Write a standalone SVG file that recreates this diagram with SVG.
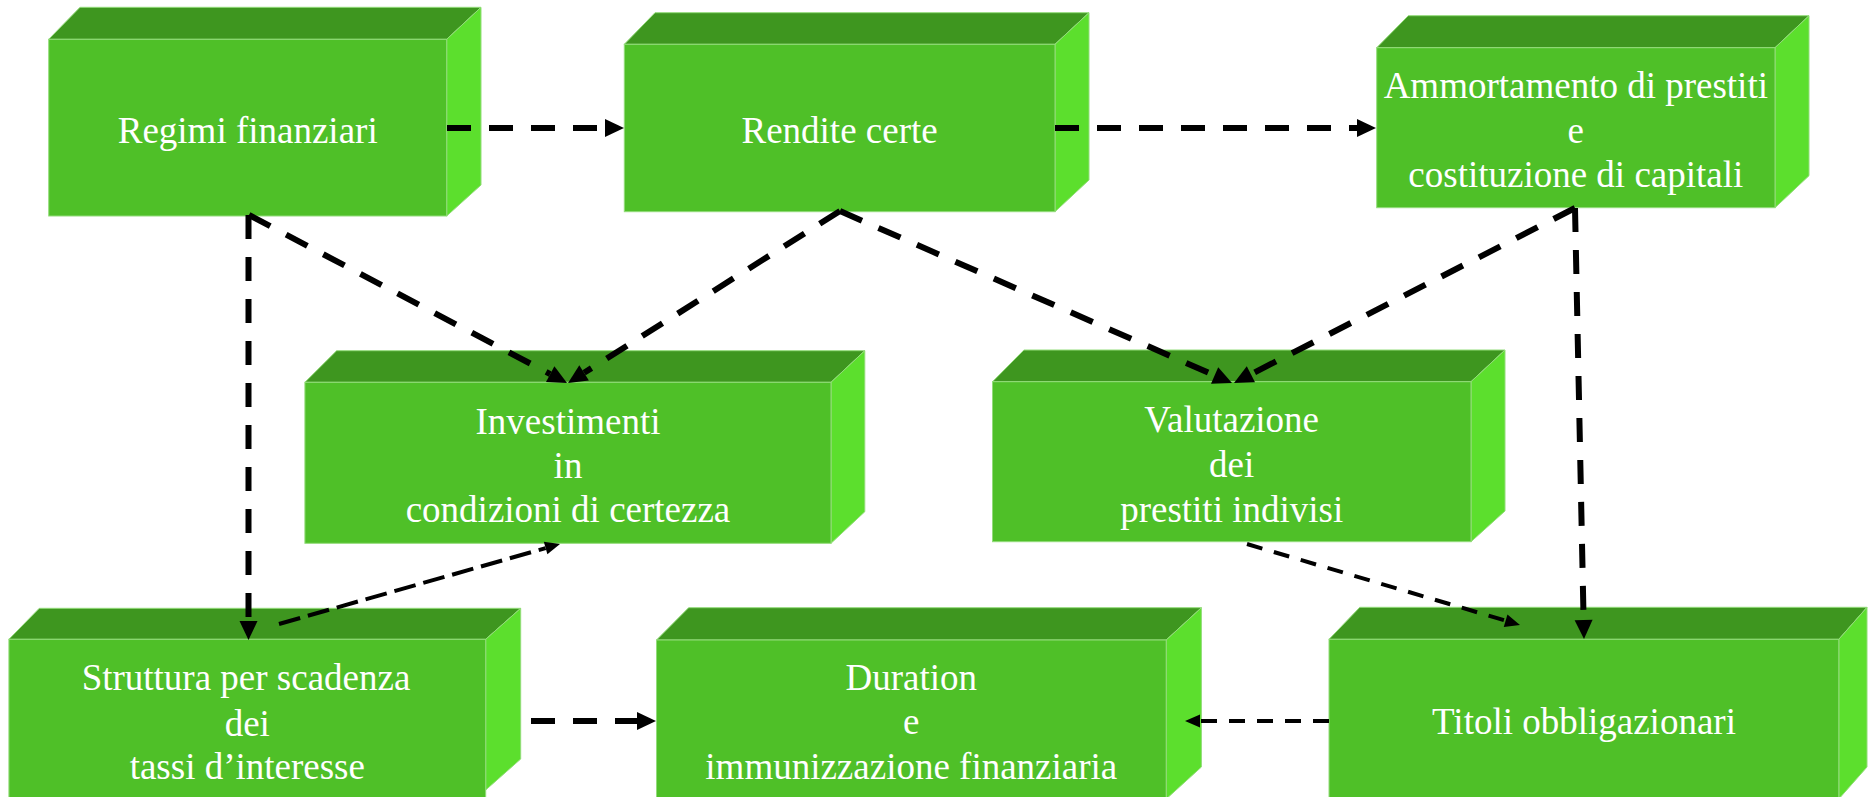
<svg xmlns="http://www.w3.org/2000/svg" width="1868" height="797" viewBox="0 0 1868 797">
<style>
.front{fill:#4fc028;stroke:#93dc7a;stroke-width:1}
.top{fill:#3e961f;stroke:#93dc7a;stroke-width:1}
.side{fill:#5cdf2d;stroke:#93dc7a;stroke-width:1}
.lbl{font-family:"Liberation Serif","Times New Roman",serif;font-size:37px;fill:#ffffff;text-anchor:middle}
.thick{fill:none;stroke:#000;stroke-width:6;stroke-dasharray:24 18}
.thin{fill:none;stroke:#000;stroke-width:4;stroke-dasharray:22 8}
.thin2{fill:none;stroke:#000;stroke-width:4;stroke-dasharray:16 12}
</style>
<defs>
<marker id="ab" markerUnits="userSpaceOnUse" orient="auto" refX="0" refY="0" markerWidth="20" markerHeight="20" viewBox="0 -10 20 20" overflow="visible">
<path d="M0,-9 L19,0 L0,9 z" fill="#000"/>
</marker>
<marker id="as" markerUnits="userSpaceOnUse" orient="auto" refX="0" refY="0" markerWidth="16" markerHeight="14" viewBox="0 -7 16 14" overflow="visible">
<path d="M0,-6.5 L15,0 L0,6.5 z" fill="#000"/>
</marker>
</defs>

<g id="node-regimi">
<polygon class="top" points="48.7,39.3 80,7.3 481,7.3 446.7,39.3"/>
<polygon class="side" points="446.7,39.3 481,7.3 481,185 446.7,216"/>
<rect class="front" x="48.7" y="39.3" width="398" height="176.7"/>
<text class="lbl" x="247.7" y="143.3">Regimi finanziari</text>
</g>

<g id="node-rendite">
<polygon class="top" points="624.3,44.3 655,12.7 1089,12.7 1055,44.3"/>
<polygon class="side" points="1055,44.3 1089,12.7 1089,180 1055,211.7"/>
<rect class="front" x="624.3" y="44.3" width="430.7" height="167.4"/>
<text class="lbl" x="839.6" y="143.3">Rendite certe</text>
</g>

<g id="node-ammortamento">
<polygon class="top" points="1376.7,47.7 1408.3,15.7 1809,15.7 1775,47.7"/>
<polygon class="side" points="1775,47.7 1809,15.7 1809,175.7 1775,207.7"/>
<rect class="front" x="1376.7" y="47.7" width="398.3" height="160"/>
<text class="lbl" x="1575.8" y="97.7">Ammortamento di prestiti</text>
<text class="lbl" x="1575.8" y="142.5">e</text>
<text class="lbl" x="1575.8" y="186.7">costituzione di capitali</text>
</g>

<g id="node-investimenti">
<polygon class="top" points="304.9,382.3 336.6,350.7 864.8,350.7 831,382.3"/>
<polygon class="side" points="831,382.3 864.8,350.7 864.8,511.7 831,543.3"/>
<rect class="front" x="304.9" y="382.3" width="526.1" height="161"/>
<text class="lbl" x="568" y="434">Investimenti</text>
<text class="lbl" x="568" y="477.7">in</text>
<text class="lbl" x="568" y="522.3">condizioni di certezza</text>
</g>

<g id="node-valutazione">
<polygon class="top" points="992.5,381.7 1023.9,350 1505,350 1471,381.7"/>
<polygon class="side" points="1471,381.7 1505,350 1505,511 1471,541.7"/>
<rect class="front" x="992.5" y="381.7" width="478.5" height="160"/>
<text class="lbl" x="1231.7" y="431.7">Valutazione</text>
<text class="lbl" x="1231.7" y="476.7">dei</text>
<text class="lbl" x="1231.7" y="521.7">prestiti indivisi</text>
</g>

<g id="node-struttura">
<polygon class="top" points="8.9,639.3 39.3,608.3 520.7,608.3 485.7,639.3"/>
<polygon class="side" points="485.7,639.3 520.7,608.3 520.7,759 485.7,790"/>
<rect class="front" x="8.9" y="639.3" width="476.8" height="160"/>
<text class="lbl" x="246" y="690">Struttura per scadenza</text>
<text class="lbl" x="247.3" y="735.7">dei</text>
<text class="lbl" x="247.3" y="779.3">tassi d’interesse</text>
</g>

<g id="node-duration">
<polygon class="top" points="656.5,640 688.6,607.7 1201.4,607.7 1166.2,640"/>
<polygon class="side" points="1166.2,640 1201.4,607.7 1201.4,767 1166.2,799"/>
<rect class="front" x="656.5" y="640" width="509.7" height="160"/>
<text class="lbl" x="911.3" y="690">Duration</text>
<text class="lbl" x="911.3" y="734.3">e</text>
<text class="lbl" x="911.3" y="779.3">immunizzazione finanziaria</text>
</g>

<g id="node-titoli">
<polygon class="top" points="1329,639.3 1359.8,607.3 1867,607.3 1838.8,639.3"/>
<polygon class="side" points="1838.8,639.3 1867,607.3 1867,767 1838.8,799"/>
<rect class="front" x="1329" y="639.3" width="509.8" height="160"/>
<text class="lbl" x="1584" y="734.3">Titoli obbligazionari</text>
</g>

<g id="connectors">
<path class="thick" d="M447,128 L605,128" marker-end="url(#ab)"/>
<path class="thick" d="M1055,128 L1357,128" marker-end="url(#ab)"/>
<path class="thick" d="M249,215 L550.2,374.1" marker-end="url(#ab)"/>
<path class="thick" d="M840,211 L584.1,372.8" marker-end="url(#ab)"/>
<path class="thick" d="M840,211 L1214.6,375.4" marker-end="url(#ab)"/>
<path class="thick" d="M1575,208 L1250.9,374.3" marker-end="url(#ab)"/>
<path class="thick" d="M1575,208 L1583.6,620" marker-end="url(#ab)"/>
<path class="thick" d="M248.5,215 L248.5,621" marker-end="url(#ab)"/>
<path class="thick" d="M531,721 L637,721" marker-end="url(#ab)"/>
<path class="thin" d="M279,624 L545.6,548.1" marker-end="url(#as)"/>
<path class="thin2" d="M1247,544 L1505.6,620.7" marker-end="url(#as)"/>
<path class="thin2" d="M1329,721 L1200,721" marker-end="url(#as)"/>
</g>
</svg>
